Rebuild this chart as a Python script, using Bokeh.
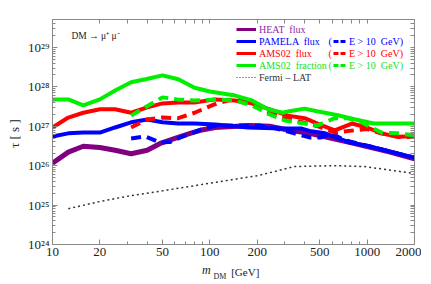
from bokeh.plotting import figure
from bokeh.models import (FixedTicker, LogAxis, Label, Legend, LegendItem, Range1d)
from bokeh.embed import file_html
from bokeh.resources import INLINE

# ---------------- data ----------------
heat_m = [10, 12.6, 15.7, 20, 25, 31.6, 40, 48, 60, 75, 87, 108, 180, 240, 320, 430, 770, 1380, 2000]
heat_tau = [1.15e26, 2.2e26, 3.1e26, 2.9e26, 2.45e26, 2.0e26, 2.45e26, 3.6e26, 4.9e26, 6.6e26, 7.9e26,
            9.3e26, 1.05e27, 1.0e27, 7.9e26, 6.6e26, 3.9e26, 2.25e26, 1.5e26]

pamela_m = [10, 12.6, 15.7, 20, 25, 31.6, 40, 50, 63, 80, 108, 175, 285, 385, 430, 540, 770, 1030, 1380, 2000]
pamela_tau = [5.5e26, 6.6e26, 6.9e26, 6.9e26, 9.3e26, 1.26e27, 1.48e27, 1.26e27, 1.17e27, 1.17e27, 1.1e27,
              9.3e26, 8.7e26, 8.7e26, 7.6e26, 6.6e26, 3.9e26, 3.1e26, 2.3e26, 1.6e26]

pamela10_m = [31.6, 39, 48, 56, 65, 78, 96, 111, 208, 265, 345, 430, 510, 590, 720, 1030, 1380, 2000]
pamela10_tau = [4.9e26, 5.5e26, 3.9e26, 4.0e26, 5.2e26, 6.9e26, 9.3e26, 1.05e27, 1.05e27, 8.7e26, 6.6e26,
                5.2e26, 5.2e26, 6.6e26, 4.4e26, 3.1e26, 2.3e26, 1.6e26]

ams_m = [10, 12.6, 15.7, 20, 25, 31.6, 40, 50, 63, 80, 108, 144, 185, 233, 313, 400, 484, 622, 800, 1000,
         1233, 1560, 2000]
ams_tau = [9.3e26, 1.66e27, 2.2e27, 2.7e27, 2.7e27, 2.2e27, 3.0e27, 3.8e27, 4.0e27, 4.0e27, 4.8e27, 4.5e27,
           3.8e27, 2.8e27, 1.86e27, 1.6e27, 1.17e27, 7.9e26, 1.17e27, 9.3e26, 6.6e26, 5.4e26, 5.6e26]

ams10_m = [31.6, 40, 50, 63, 80, 105, 130, 150, 185, 223, 285, 385, 484, 622, 832, 1000, 1233, 1650, 2000]
ams10_tau = [9.3e26, 1.48e27, 1.66e27, 1.6e27, 2.2e27, 3.5e27, 4.5e27, 4.8e27, 3.8e27, 2.5e27, 1.66e27,
             1.26e27, 1.0e27, 6.9e26, 7.9e26, 8.5e26, 6.6e26, 5.2e26, 5.5e26]

frac_m = [10, 12.6, 15.7, 20, 25, 31.6, 39, 50, 63, 80, 100, 145, 185, 235, 290, 320, 400, 480, 650, 830,
          1100, 2000]
frac_tau = [4.8e27, 4.8e27, 3.4e27, 4.8e27, 8.1e27, 1.3e28, 1.55e28, 1.95e28, 1.55e28, 9.5e27, 7.6e27, 6.0e27,
            4.5e27, 2.7e27, 2.2e27, 2.4e27, 2.8e27, 2.4e27, 1.9e27, 1.5e27, 1.17e27, 1.17e27]

frac10_m = [31.6, 50, 62, 81, 108, 144, 185, 233, 299, 400, 484, 622, 750, 920, 1233, 1560, 2000]
frac10_tau = [1.86e27, 5.4e27, 4.8e27, 4.5e27, 4.8e27, 4.5e27, 3.4e27, 2.1e27, 1.4e27, 1.17e27, 1.05e27,
              1.6e27, 1.6e27, 1.26e27, 6.9e26, 6.6e26, 5.9e26]

fermi_m = [12.6, 20, 31.6, 50, 105, 203, 345, 622, 960, 1340, 2000]
fermi_tau = [8.1e24, 1.23e25, 1.74e25, 2.3e25, 3.7e25, 5.6e25, 9.5e25, 1.0e26, 9.5e25, 7.9e25, 6.3e25]

x_ticks = [10, 20, 50, 100, 200, 500, 1000, 2000]
x_minor = [30, 40, 60, 70, 80, 90, 300, 400, 600, 700, 800, 900]
y_ticks = [1e24, 1e25, 1e26, 1e27, 1e28, 1e29]
y_labels = ["10²⁴", "10²⁵", "10²⁶", "10²⁷", "10²⁸", "10²⁹"]
y_minor = [k * 10.0 ** e for e in range(24, 30) for k in range(2, 10)]

# x-axis title pieces: text and where (in GeV) each piece is centred
xt_m, xt_m_at = "m", 95
xt_dm, xt_dm_at = "DM", 116
xt_unit, xt_unit_at = "[GeV]", 168

C_HEAT = "#800080"
C_PAM = "#0000ff"
C_AMS = "#ff0000"
C_FRAC = "#00ee00"
C_FERMI = "#333333"
SERIF = "Liberation Serif"
AX = "#888888"
TXT = "#222222"
NAN = float("nan")

p = figure(width=421, height=284, x_axis_type="log", y_axis_type="log",
           x_range=Range1d(10, 2000), y_range=Range1d(1e24, 5.1e29),
           output_backend="svg", toolbar_location=None,
           min_border_left=52, min_border_top=19, min_border_right=7, min_border_bottom=40)
p.grid.visible = False
p.outline_line_color = AX
p.background_fill_color = "white"

def style_axis(ax, ticks, minor):
    ax.ticker = FixedTicker(ticks=ticks, minor_ticks=minor)
    ax.axis_line_color = AX
    ax.major_tick_line_color = AX
    ax.minor_tick_line_color = AX
    ax.major_tick_in = 5
    ax.major_tick_out = 0
    ax.minor_tick_in = 3
    ax.minor_tick_out = 0
    ax.major_label_text_font = SERIF
    ax.major_label_text_font_size = "13px"
    ax.major_label_text_color = TXT
    ax.major_label_standoff = 3

style_axis(p.xaxis[0], x_ticks, x_minor)
p.xaxis[0].major_label_overrides = {t: str(t) for t in x_ticks}
style_axis(p.yaxis[0], y_ticks, y_minor)
p.yaxis[0].major_label_overrides = {t: l for t, l in zip(y_ticks, y_labels)}
p.yaxis[0].axis_label = "τ  [ s ]"
p.yaxis[0].axis_label_text_font = SERIF
p.yaxis[0].axis_label_text_font_style = "normal"
p.yaxis[0].axis_label_text_font_size = "13px"
p.yaxis[0].axis_label_text_color = TXT
p.yaxis[0].axis_label_standoff = 3

# frame ticks on top and right (no labels: only minor-tick marks)
def frame_axis(ticks, minor):
    ax = LogAxis(ticker=FixedTicker(ticks=[], minor_ticks=sorted(ticks + minor)))
    ax.axis_line_color = AX
    ax.minor_tick_line_color = AX
    ax.minor_tick_in = 4
    ax.minor_tick_out = 0
    ax.major_tick_in = 0
    ax.major_tick_out = 0
    ax.major_label_standoff = 0
    return ax

p.add_layout(frame_axis(x_ticks, x_minor), "above")
p.add_layout(frame_axis(y_ticks, y_minor), "right")

# x-axis title built from label-only axes stacked below the numbers
def title_axis(text, at, size, style, standoff):
    ax = LogAxis(ticker=FixedTicker(ticks=[at], minor_ticks=[]))
    ax.major_label_overrides = {at: text}
    ax.axis_line_color = None
    ax.major_tick_line_color = None
    ax.minor_tick_line_color = None
    ax.major_tick_in = 0
    ax.major_tick_out = 0
    ax.major_label_standoff = standoff
    ax.major_label_text_font = SERIF
    ax.major_label_text_font_size = size
    ax.major_label_text_font_style = style
    ax.major_label_text_color = TXT
    p.add_layout(ax, "below")

title_axis(xt_unit, xt_unit_at, "11px", "normal", 7)
title_axis(xt_m, xt_m_at, "12px", "italic", -18)
title_axis(xt_dm, xt_dm_at, "8px", "normal", -9)

W = 4
r_fermi = p.line(fermi_m, fermi_tau, line_color=C_FERMI, line_width=1.5, line_dash="2 3")
r_heat = p.line(heat_m, heat_tau, line_color=C_HEAT, line_width=W + 1)
r_pam = p.line(pamela_m, pamela_tau, line_color=C_PAM, line_width=W)
r_pam10 = p.line(pamela10_m, pamela10_tau, line_color=C_PAM, line_width=W, line_dash="10 6")
r_ams = p.line(ams_m, ams_tau, line_color=C_AMS, line_width=W)
r_ams10 = p.line(ams10_m, ams10_tau, line_color=C_AMS, line_width=W, line_dash="10 6")
r_frac = p.line(frac_m, frac_tau, line_color=C_FRAC, line_width=W)
r_frac10 = p.line(frac10_m, frac10_tau, line_color=C_FRAC, line_width=W, line_dash="10 6")

# legend-only glyphs (no visible data)
def lg(color, dash="solid", width=3):
    return p.line([NAN], [NAN], line_color=color, line_width=width, line_dash=dash)

entries = [
    ("HEAT  flux", lg(C_HEAT), "#8e2a9e"),
    ("PAMELA  flux", lg(C_PAM), C_PAM),
    ("AMS02  flux", lg(C_AMS), C_AMS),
    ("AMS02  fraction", lg(C_FRAC), "#22dd22"),
    ("Fermi – LAT", lg(C_FERMI, "1 2", 1.2), C_FERMI),
]
dash_entries = [
    (1, lg(C_PAM, "5 2"), C_PAM),
    (2, lg(C_AMS, "5 2"), C_AMS),
    (3, lg(C_FRAC, "5 2"), "#22dd22"),
]

FS = "10px"
row0 = 215  # from frame bottom, center of first row
def mk_legend(label, rend, color, x, row, gw):
    lgd = Legend(items=[LegendItem(label=label, renderers=[rend])],
                 location=(x, row0 - 12 * row - 6), padding=0, margin=0, spacing=0,
                 border_line_alpha=0, background_fill_alpha=0,
                 glyph_width=gw, glyph_height=12, label_height=12, label_standoff=3,
                 label_text_font=SERIF, label_text_font_size=FS,
                 label_text_color=color)
    p.add_layout(lgd, "center")

for i, (lab, rend, col) in enumerate(entries):
    mk_legend(lab, rend, col, 184, i, 20)
for row, rend, col in dash_entries:
    mk_legend("E > 10  GeV)", rend, col, 281, row, 13)
    p.add_layout(Label(x=276, y=row0 - 12 * row, x_units="screen", y_units="screen", text="(",
                       text_font=SERIF, text_font_size=FS, text_color=col,
                       text_baseline="middle"))

p.add_layout(Label(x=19, y=209, x_units="screen", y_units="screen", text="DM → μ⁺ μ⁻",
                   text_font=SERIF, text_font_size="9.5px", text_color=TXT,
                   text_baseline="middle"))

open("out.html", "w").write(file_html(p, INLINE))
